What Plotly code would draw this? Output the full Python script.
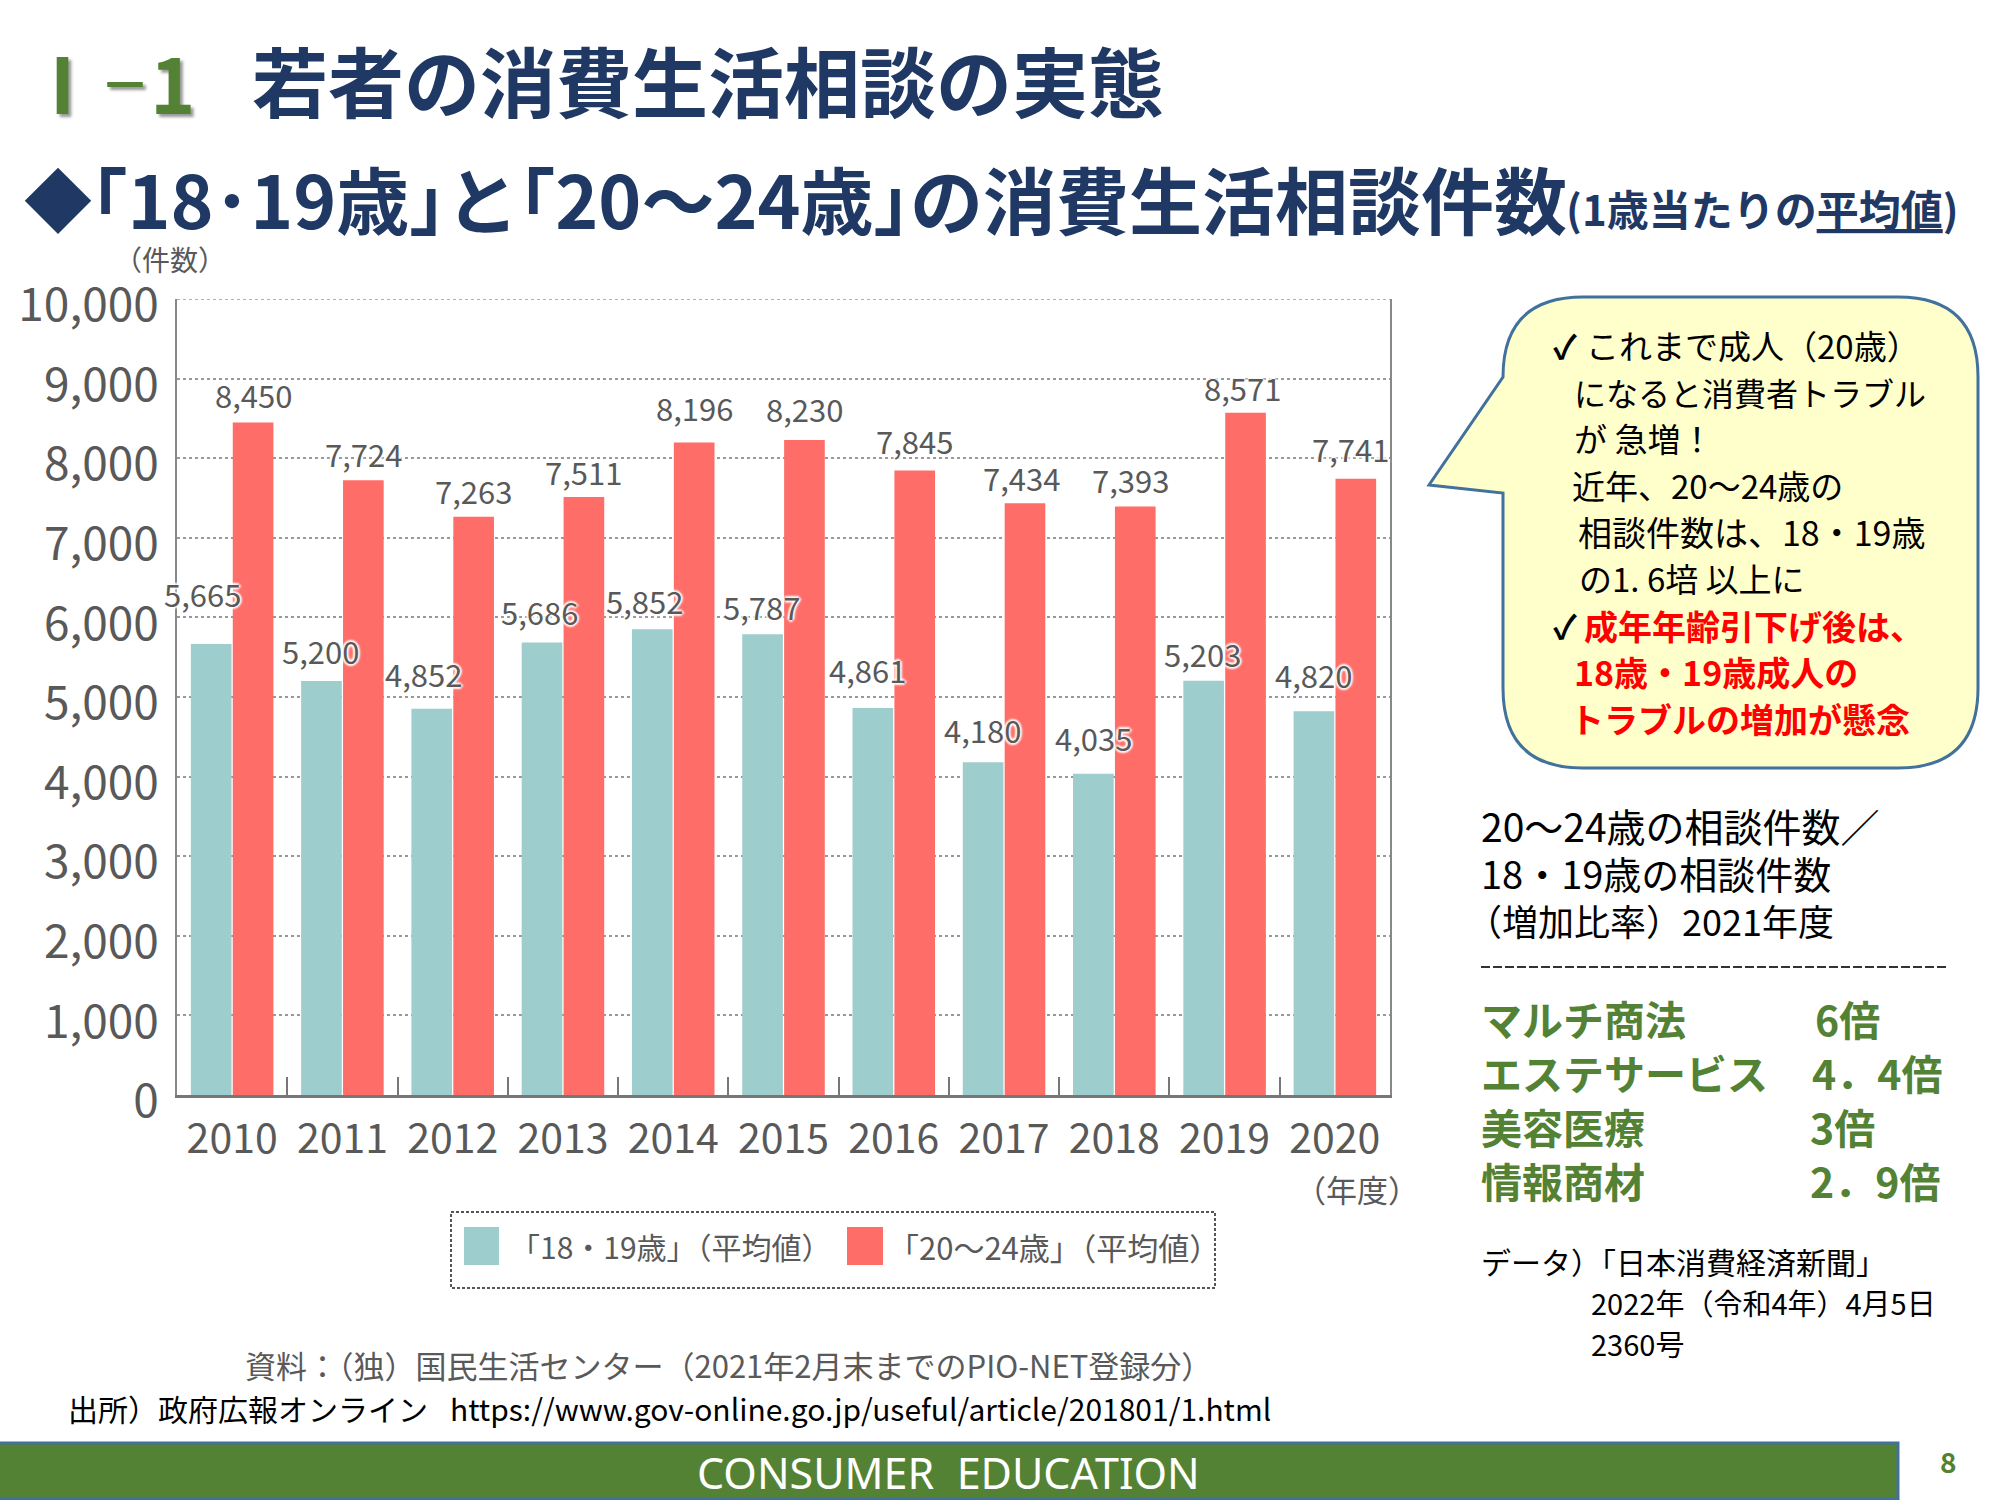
import plotly.graph_objects as go

years = ["2010","2011","2012","2013","2014","2015","2016","2017","2018","2019","2020"]
age_18_19 = [5665,5200,4852,5686,5852,5787,4861,4180,4035,5203,4820]
age_20_24 = [8450,7724,7263,7511,8196,8230,7845,7434,7393,8571,7741]
y_ticks = [0,1000,2000,3000,4000,5000,6000,7000,8000,9000,10000]

name_a = "「18・19歳」（平均値）"
name_b = "「20～24歳」（平均値）"

# label nudges in pixels (x, up)
nudge_a = [(-30,51),(-22,31),(-29,35),(-23,31),(-29,29),(-22,28),(-26,39),(-22,33),(-21,36),(-22,27),(-21,37)]
nudge_b = [(21,28),(21,27),(21,26),(21,26),(21,35),(21,31),(21,30),(17,26),(16,27),(18,25),(16,30)]

FONT = "Noto Sans CJK JP"
NAVY = "#1F3864"
GREEN = "#548235"
TEAL = "#9DCDCC"
RED = "#FF6D68"
GREY = "#595959"
BLUE = "#41719C"

PL, PR, PT, PB = 177, 1390, 299, 1095
def X(p): return (p-PL)/(PR-PL)
def Y(p): return (PB-p)/(PB-PT)

fig = go.Figure()
fig.add_bar(x=years, y=age_18_19, name=name_a, marker_color=TEAL, marker_line_width=0, showlegend=False)
fig.add_bar(x=years, y=age_20_24, name=name_b, marker_color=RED, marker_line_width=0, showlegend=False)

ann = []
def text(px, py, s, size, color="#000000", bold=False, anchor="left", shadow=None, family=FONT):
    t = f"<b>{s}</b>" if bold else s
    f = dict(family=family, size=size, color=color)
    if shadow: f["shadow"] = shadow
    ann.append(dict(xref="paper", yref="paper", x=X(px), y=Y(py), text=t, showarrow=False,
                    xanchor=anchor, yanchor="middle", font=f, align="left", borderpad=0, borderwidth=0))

HALO = "2px 0 2px #fff,-2px 0 2px #fff,0 2px 2px #fff,0 -2px 2px #fff"
for series, nudges in ((age_18_19, nudge_a), (age_20_24, nudge_b)):
    for i, (v, (dx, up)) in enumerate(zip(series, nudges)):
        ann.append(dict(xref="x", yref="y", x=i, y=v, text=f"{v:,}", showarrow=False, xshift=dx, yshift=up,
                        yanchor="middle", font=dict(family=FONT, size=31, color=GREY, shadow=HALO)))

# headings
SH = "3px 3px 3px #999"
text(62, 81, "Ⅰ", 77, GREEN, True, anchor="center", shadow=SH)
text(125, 81, "－", 50, GREEN, True, anchor="center", shadow=SH)
text(172, 81, "1", 77, GREEN, True, anchor="center", shadow=SH)
text(252, 79, "若者の消費生活相談の実態", 76, NAVY, True)
text(24, 197, "◆", 68, NAVY, True)
text(91, 197, "｢18･19歳｣と｢20～24歳｣の消費生活相談件数", 73, NAVY, True)
text(1566, 207, "(1歳当たりの<u>平均値</u>)", 42, NAVY, True)

# axis notes
text(170, 259, "（件数）", 28, GREY, anchor="center")
text(1357, 1188, "（年度）", 31, GREY, anchor="center")

# legend
text(510, 1246, name_a, 30, GREY)
text(888, 1246, name_b, 31, GREY)

# sources
text(245, 1364, "資料：（独）国民生活センター（2021年2月末までのPIO-NET登録分）", 31, GREY)
text(68, 1408, "出所）政府広報オンライン", 30, "#000000")
text(450, 1408, "https://www.gov-online.go.jp/useful/article/201801/1.html", 30, "#000000")

# footer
text(948, 1472, "CONSUMER  EDUCATION", 43, "#FFFFFF", anchor="center", family="Noto Sans")
text(1948, 1461, "8", 28, GREEN, True, anchor="center")

# bubble text
bubble = [
 (1553,345,"✓",33,"#000000",True),(1586,345,"これまで成人（20歳）",33,"#000000",False),
 (1574,392,"になると消費者トラブル",32,"#000000",False),
 (1574,438,"が 急増！",33,"#000000",False),
 (1572,485,"近年、20～24歳の",33,"#000000",False),
 (1578,531,"相談件数は、18・19歳",34,"#000000",False),
 (1579,578,"の1. 6培 以上に",33,"#000000",False),
 (1553,625,"✓",33,"#000000",True),(1584,625,"成年年齢引下げ後は、",34,"#FF0000",True),
 (1574,671,"18歳・19歳成人の",34,"#FF0000",True),
 (1570,718,"トラブルの増加が懸念",34,"#FF0000",True),
]
for px,py,s,size,c,b in bubble:
    text(px,py,s,size,c,b)

# right-hand notes
text(1481, 825, "20～24歳の相談件数／", 39)
text(1481, 872, "18・19歳の相談件数", 38)
text(1466, 920, "（増加比率）2021年度", 36)
rows = [("マルチ商法","6倍",1815,1018),("エステサービス","4．4倍",1812,1072),("美容医療","3倍",1810,1126),("情報商材","2．9倍",1810,1180)]
for a,b,xb,py in rows:
    text(1481, py, a, 41, GREEN, True)
    text(xb, py, b, 41, GREEN, True)
text(1481, 1261, "データ）「日本消費経済新聞」", 30)
text(1591, 1302, "2022年（令和4年）4月5日", 29)
text(1591, 1343, "2360号", 29)

# shapes
def rect(x0,y0,x1,y1,**kw):
    return dict(type="rect", xref="paper", yref="paper", x0=X(x0), x1=X(x1), y0=Y(y0), y1=Y(y1), **kw)
def line(x0,y0,x1,y1,**kw):
    return dict(type="line", xref="paper", yref="paper", x0=X(x0), x1=X(x1), y0=Y(y0), y1=Y(y1), **kw)

L,R,T,B,r = 1503,1978,297,768,80
P = lambda a,b: f"{X(a)},{Y(b)}"
path = (f"M{P(L+r,T)} L{P(R-r,T)} Q{P(R,T)} {P(R,T+r)} L{P(R,B-r)} Q{P(R,B)} {P(R-r,B)} "
        f"L{P(L+r,B)} Q{P(L,B)} {P(L,B-r)} L{P(L,493)} L{P(1429,485)} L{P(1503,377)} L{P(L,T+r)} Q{P(L,T)} {P(L+r,T)} Z")

shapes = [
    dict(type="path", xref="paper", yref="paper", path=path, fillcolor="#FFFFCC", line=dict(color=BLUE, width=3)),
    rect(-5,1443,1898,1499, fillcolor=GREEN, line=dict(color=BLUE, width=3)),
    rect(451,1212,1215,1288, line=dict(color="#555555", width=2, dash="3px,2px")),
    rect(464,1227,499,1265, fillcolor=TEAL, line_width=0),
    rect(847,1227,883,1265, fillcolor=RED, line_width=0),
    line(1481,967,1948,967, line=dict(color="#333333", width=2, dash="9px,3px")),
    dict(type="line", xref="paper", yref="y", x0=0, x1=1, y0=10000, y1=10000,
         line=dict(color="#999999", width=1.5, dash="dot")),
]

fig.update_layout(
    width=2000, height=1500, autosize=False,
    margin=dict(l=PL, r=2000-PR, t=PT, b=1500-PB, pad=0),
    paper_bgcolor="#FFFFFF", plot_bgcolor="#FFFFFF",
    barmode="group", bargap=0.24, bargroupgap=0.03,
    font=dict(family=FONT, color=GREY),
    annotations=ann, shapes=shapes,
    xaxis=dict(type="category", categoryorder="array", categoryarray=years, range=[-0.5,10.5], tickson="boundaries",
               ticks="inside", ticklen=18, tickwidth=1.5, tickcolor="#777777", tickangle=0,
               showline=True, linecolor="#777777", linewidth=3, showgrid=False,
               tickfont=dict(size=41, color=GREY, family=FONT), ticklabelstandoff=6),
    yaxis=dict(range=[0,10000], tickmode="array", tickvals=y_ticks, tickformat=",",
               showline=True, mirror=True, linecolor="#888888", linewidth=2, ticks="",
               showgrid=True, gridcolor="#999999", griddash="dot", gridwidth=1.5, zeroline=False,
               tickfont=dict(size=46, color=GREY, family=FONT), ticklabelstandoff=7),
)

post = """document.body.style.margin='0';
document.querySelectorAll('.ytick text').forEach(function(t){t.setAttribute('y', parseFloat(t.getAttribute('y'))+6);});"""
fig.write_html("out.html", post_script=post, config={"displayModeBar": False})
